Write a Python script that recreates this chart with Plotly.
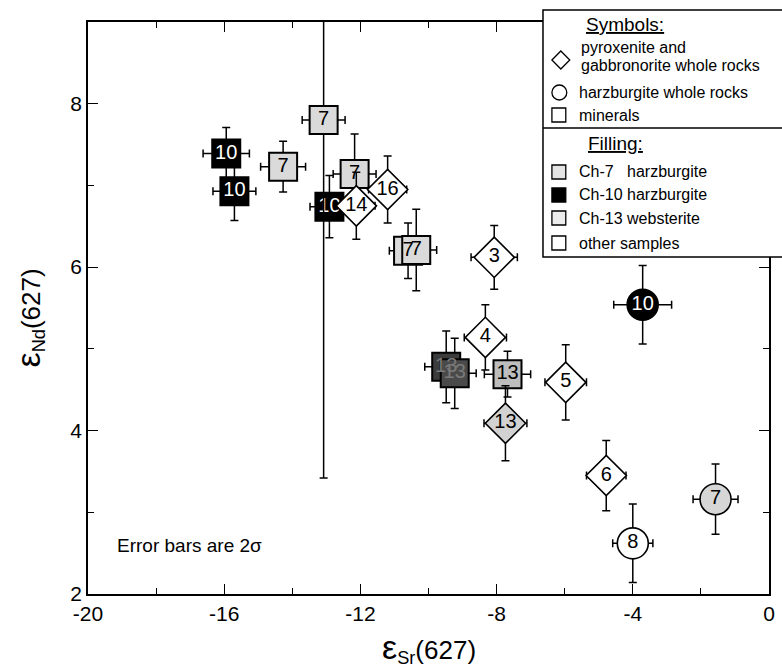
import plotly.graph_objects as go

# ---------------- data ----------------
# Ch-10 harzburgite minerals (black squares)
ch10_min_x = [-15.94, -15.70, -12.91]
ch10_min_y = [7.39, 6.93, 6.74]
ch10_min_xe = [0.68, 0.63, 0.57]
ch10_min_ye = [0.32, 0.36, 0.38]
ch10_min_lab = ["10", "10", "10"]

# Ch-7 harzburgite minerals (stippled squares)
ch7_min_x = [-14.27, -13.08, -12.17, -10.60, -10.36]
ch7_min_y = [7.23, 7.80, 7.14, 6.20, 6.21]
ch7_min_xe = [0.66, 0.63, 0.63, 0.55, 0.60]
ch7_min_ye = [0.31, 4.38, 0.49, 0.34, 0.50]
ch7_min_lab = ["7", "7", "7", "7", "7"]

# Ch-13 websterite minerals (squares)
ch13_min_x = [-9.48, -9.23, -7.68]
ch13_min_y = [4.78, 4.70, 4.69]
ch13_min_xe = [0.63, 0.63, 0.68]
ch13_min_ye = [0.44, 0.43, 0.28]
ch13_min_lab = ["13", "13", "13"]
ch13_min_fill = ["#3c3c3c", "#4a4a4a", "#bdbdbd"]
ch13_min_txt = ["#7a7a7a", "#7a7a7a", "#000000"]

# pyroxenite / gabbronorite whole rocks (diamonds), other samples
px_wr_x = [-8.07, -8.33, -5.97, -4.78, -12.12, -11.20]
px_wr_y = [6.12, 5.14, 4.59, 3.45, 6.75, 6.95]
px_wr_xe = [0.68, 0.62, 0.61, 0.58, 0.55, 0.56]
px_wr_ye = [0.39, 0.40, 0.46, 0.43, 0.41, 0.41]
px_wr_lab = ["3", "4", "5", "6", "14", "16"]

# Ch-13 websterite whole rock (diamond)
ch13_wr_x = [-7.74]
ch13_wr_y = [4.09]
ch13_wr_xe = [0.63]
ch13_wr_ye = [0.46]
ch13_wr_lab = ["13"]

# harzburgite whole rocks (circles)
hz_wr_x = [-4.00, -1.57, -3.71]
hz_wr_y = [2.62, 3.16, 5.54]
hz_wr_xe = [0.59, 0.66, 0.85]
hz_wr_ye = [0.48, 0.43, 0.48]
hz_wr_lab = ["8", "7", "10"]
hz_wr_fill = ["#ffffff", "#d6d6d6", "#000000"]
hz_wr_txt = ["#000000", "#000000", "#ffffff"]

x_ticks = [-20, -16, -12, -8, -4, 0]
y_ticks = [2, 4, 6, 8]

FONT = "Liberation Sans, Arial, Helvetica, sans-serif"
LBL = 20

fig = go.Figure()


def add(x, y, xe, ye, lab, symbol, size, fill, tcol, lw=2):
    fig.add_trace(go.Scatter(
        x=x, y=y, mode="markers+text", text=lab,
        textposition="middle center",
        textfont=dict(family=FONT, size=LBL, color=tcol),
        marker=dict(symbol=symbol, size=size, color=fill,
                    line=dict(color="black", width=lw)),
        error_x=dict(type="data", array=xe, visible=True, color="black",
                     thickness=1.5, width=4),
        error_y=dict(type="data", array=ye, visible=True, color="black",
                     thickness=1.5, width=4),
        showlegend=False, hoverinfo="skip"))


add(ch10_min_x, ch10_min_y, ch10_min_xe, ch10_min_ye, ch10_min_lab,
    "square", 28, "#000000", "#ffffff")
add(ch7_min_x, ch7_min_y, ch7_min_xe, ch7_min_ye, ch7_min_lab,
    "square", 28, "#dadada", "#000000")
add(ch13_min_x, ch13_min_y, ch13_min_xe, ch13_min_ye, ch13_min_lab,
    "square", 28, ch13_min_fill, ch13_min_txt)
add(ch13_wr_x, ch13_wr_y, ch13_wr_xe, ch13_wr_ye, ch13_wr_lab,
    "diamond", 31, "#d2d2d2", "#000000", 1.6)
add(px_wr_x, px_wr_y, px_wr_xe, px_wr_ye, px_wr_lab,
    "diamond", 31, "#ffffff", "#000000", 1.6)
add(hz_wr_x, hz_wr_y, hz_wr_xe, hz_wr_ye, hz_wr_lab,
    "circle", 31, hz_wr_fill, hz_wr_txt, 1.6)

# ---------------- layout ----------------
L, R, T, B = 88, 775, 22, 594
W, H = 782, 669


def pxx(p):
    return (p - L) / (R - L)


def pyy(p):
    return (B - p) / (B - T)


axis_common = dict(showline=True, linecolor="black", linewidth=1.5,
                   mirror="allticks", ticks="inside", ticklen=10,
                   tickwidth=1.2, tickcolor="black", showgrid=False,
                   zeroline=False,
                   tickfont=dict(family=FONT, size=21, color="black"))

fig.update_layout(
    width=W, height=H,
    margin=dict(l=L, r=W - R, t=T, b=H - B),
    paper_bgcolor="white", plot_bgcolor="white",
    xaxis=dict(range=[-20, 0], tickvals=x_ticks,
               ticktext=[str(v) for v in x_ticks],
               minor=dict(dtick=2, ticks="inside", ticklen=6,
                          tickcolor="black", tickwidth=1.2),
               **axis_common),
    yaxis=dict(range=[2, 9], tickvals=y_ticks,
               ticktext=[str(v) for v in y_ticks],
               minor=dict(dtick=1, ticks="inside", ticklen=6,
                          tickcolor="black", tickwidth=1.2),
               **axis_common),
    font=dict(family=FONT, color="black"),
)

ann = []
# axis titles
ann.append(dict(x=pxx(432), y=pyy(648), xref="paper", yref="paper",
                text="<span style='font-size:34px'>ε</span><sub>Sr</sub>(627)",
                showarrow=False, font=dict(family=FONT, size=26),
                xanchor="center", yanchor="middle"))
ann.append(dict(x=pxx(28), y=pyy(318), xref="paper", yref="paper",
                text="<span style='font-size:34px'>ε</span><sub>Nd</sub>(627)",
                showarrow=False, font=dict(family=FONT, size=26),
                textangle=-90, xanchor="center", yanchor="middle"))
ann.append(dict(x=pxx(115), y=pyy(545), xref="paper", yref="paper",
                text="Error bars are 2σ", showarrow=False,
                font=dict(family=FONT, size=19),
                xanchor="left", yanchor="middle"))

# legend box
shapes = []
shapes.append(dict(type="rect", xref="paper", yref="paper",
                   x0=pxx(547), x1=pxx(800), y0=pyy(257), y1=pyy(10),
                   fillcolor="white", line=dict(color="black", width=1.5),
                   layer="above"))
shapes.append(dict(type="line", xref="paper", yref="paper",
                   x0=pxx(547), x1=pxx(800), y0=pyy(128), y1=pyy(128),
                   line=dict(color="black", width=1.5), layer="above"))
# legend symbols
cx, cy, hd = 565, 60, 9
shapes.append(dict(type="path", xref="paper", yref="paper",
                   path=f"M {pxx(cx-hd)},{pyy(cy)} L {pxx(cx)},{pyy(cy-hd)} "
                        f"L {pxx(cx+hd)},{pyy(cy)} L {pxx(cx)},{pyy(cy+hd)} Z",
                   fillcolor="white", line=dict(color="black", width=1.3),
                   layer="above"))
shapes.append(dict(type="circle", xref="paper", yref="paper",
                   x0=pxx(556), x1=pxx(571), y0=pyy(100), y1=pyy(85),
                   fillcolor="white", line=dict(color="black", width=1.3),
                   layer="above"))
legend_sq = [(115, "white"), (172, "#e4e4e4"), (195, "black"),
             (218, "#ececec"), (243, "white")]
for yy, fc in legend_sq:
    shapes.append(dict(type="rect", xref="paper", yref="paper",
                       x0=pxx(556), x1=pxx(570), y0=pyy(yy + 7), y1=pyy(yy - 7),
                       fillcolor=fc, line=dict(color="black", width=1.3),
                       layer="above"))

leg_text = [
    (588, 25, "<u>Symbols:</u>", 19),
    (583, 47, "pyroxenite and", 16),
    (583, 66, "gabbronorite whole rocks", 16),
    (581, 92, "harzburgite whole rocks", 16),
    (581, 115, "minerals", 16),
    (590, 143, "<u>Filling:</u>", 19),
    (581, 172, "Ch-7   harzburgite", 16),
    (581, 195, "Ch-10 harzburgite", 16),
    (581, 218, "Ch-13 websterite", 16),
    (581, 243, "other samples", 16),
]
for xx, yy, tx, fs in leg_text:
    ann.append(dict(x=pxx(xx), y=pyy(yy), xref="paper", yref="paper",
                    text=tx, showarrow=False, xanchor="left",
                    yanchor="middle", font=dict(family=FONT, size=fs)))

fig.update_layout(annotations=ann, shapes=shapes)

fig.write_html("out.html")
